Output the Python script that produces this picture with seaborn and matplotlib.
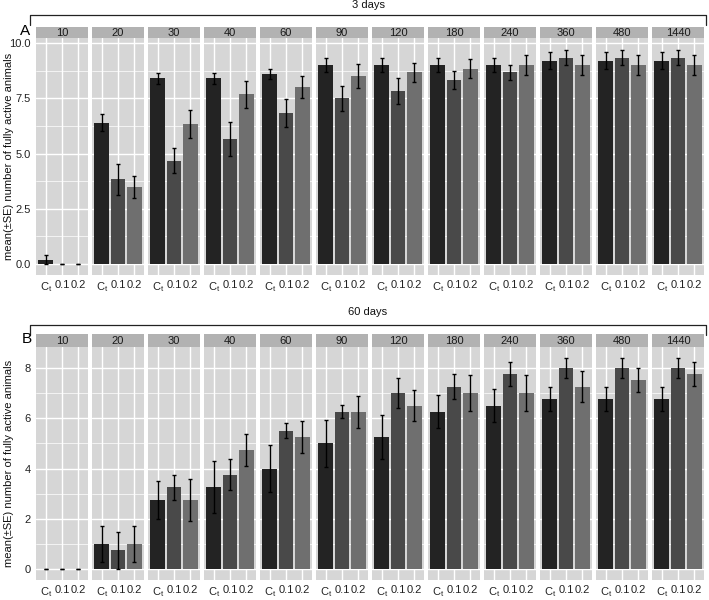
import numpy as np
import pandas as pd
import matplotlib
matplotlib.use('Agg')
import matplotlib.pyplot as plt
from matplotlib.lines import Line2D
from matplotlib import font_manager
import seaborn as sns

# facets (minutes) and treatment groups
times = [10, 20, 30, 40, 60, 90, 120, 180, 240, 360, 480, 1440]
groups = ['Ct', '0.1', '0.2']
group_labels = ['C$_t$', '0.1', '0.2']

# 3 days: mean and SE per group
d3_ct = [0.2, 6.4, 8.4, 8.4, 8.6, 9.0, 9.0, 9.0, 9.0, 9.2, 9.2, 9.2]
d3_ct_se = [0.2, 0.4, 0.24, 0.24, 0.24, 0.32, 0.3, 0.3, 0.3, 0.38, 0.38, 0.38]
d3_01 = [0.0, 3.83, 4.67, 5.67, 6.83, 7.5, 7.83, 8.33, 8.67, 9.33, 9.33, 9.33]
d3_01_se = [0.0, 0.7, 0.57, 0.77, 0.63, 0.56, 0.6, 0.42, 0.33, 0.33, 0.33, 0.33]
d3_02 = [0.0, 3.5, 6.33, 7.67, 8.0, 8.5, 8.67, 8.83, 9.0, 9.0, 9.0, 9.0]
d3_02_se = [0.0, 0.5, 0.62, 0.6, 0.5, 0.56, 0.43, 0.42, 0.45, 0.47, 0.47, 0.47]

# 60 days: mean and SE per group
d60_ct = [0.0, 1.0, 2.75, 3.25, 4.0, 5.0, 5.25, 6.25, 6.5, 6.75, 6.75, 6.75]
d60_ct_se = [0.0, 0.71, 0.75, 1.03, 0.92, 0.92, 0.87, 0.65, 0.65, 0.48, 0.48, 0.48]
d60_01 = [0.0, 0.75, 3.25, 3.75, 5.5, 6.25, 7.0, 7.25, 7.75, 8.0, 8.0, 8.0]
d60_01_se = [0.0, 0.75, 0.48, 0.62, 0.3, 0.26, 0.58, 0.48, 0.48, 0.4, 0.4, 0.4]
d60_02 = [0.0, 1.0, 2.75, 4.75, 5.25, 6.25, 6.5, 7.0, 7.0, 7.25, 7.5, 7.75]
d60_02_se = [0.0, 0.71, 0.85, 0.63, 0.64, 0.64, 0.6, 0.71, 0.71, 0.63, 0.48, 0.48]


def make_df(ct, ct_se, c01, c01_se, c02, c02_se):
    rows = []
    for i, t in enumerate(times):
        for g, m, s in zip(groups, [ct[i], c01[i], c02[i]], [ct_se[i], c01_se[i], c02_se[i]]):
            rows.append({'time': t, 'group': g, 'mean': m, 'se': s})
    return pd.DataFrame(rows)


df3 = make_df(d3_ct, d3_ct_se, d3_01, d3_01_se, d3_02, d3_02_se)
df60 = make_df(d60_ct, d60_ct_se, d60_01, d60_01_se, d60_02, d60_02_se)

# narrow sans if available (reference text is a condensed Helvetica-like face)
installed = {f.name for f in font_manager.fontManager.ttflist}
main_font = 'Liberation Sans Narrow' if 'Liberation Sans Narrow' in installed else 'Liberation Sans'

sns.set_theme(style='white')
plt.rcParams['font.family'] = [main_font, 'DejaVu Sans']
plt.rcParams['mathtext.fontset'] = 'custom'
plt.rcParams['mathtext.rm'] = main_font
plt.rcParams['mathtext.it'] = main_font

palette = {'Ct': '#232323', '0.1': '#494949', '0.2': '#6f6f6f'}
bg = '#d6d6d6'
strip_col = '#b2b2b2'
fs = 8

W, H = 709, 600
fig = plt.figure(figsize=(W / 100, H / 100), dpi=100)


def px_axes(x0, y0, w, h):
    return fig.add_axes([x0 / W, 1 - (y0 + h) / H, w / W, h / H])


def fig_line(xs, ys):
    fig.add_artist(Line2D([x / W for x in xs], [1 - y / H for y in ys],
                          transform=fig.transFigure, color='#222222', lw=0.9))


panels = [
    dict(df=df3, title='3 days', tag='A', strip_top=27, top=38, bottom=275,
         ylim=(-0.49, 10.22), major=[0, 2.5, 5, 7.5, 10],
         minor=[1.25, 3.75, 6.25, 8.75], fmt='{:.1f}',
         br_y=15, title_y=5, tag_xy=(25, 31)),
    dict(df=df60, title='60 days', tag='B', strip_top=334, top=347, bottom=580,
         ylim=(-0.42, 8.82), major=[0, 2, 4, 6, 8],
         minor=[1, 3, 5, 7], fmt='{:.0f}',
         br_y=325, title_y=312, tag_xy=(27, 339)),
]

x_left, pitch, fw = 36, 56, 52

for p in panels:
    for i, t in enumerate(times):
        sub = p['df'][p['df']['time'] == t]
        x0 = x_left + i * pitch
        ax = px_axes(x0, p['top'], fw, p['bottom'] - p['top'])
        ax.set_facecolor(bg)
        ax.set_axisbelow(True)
        sns.barplot(data=sub, x='group', y='mean', hue='group', order=groups,
                    hue_order=groups, palette=palette, legend=False,
                    width=0.9, linewidth=0, errorbar=None, ax=ax)
        ax.errorbar(np.arange(len(groups)), sub['mean'], yerr=sub['se'],
                    fmt='none', ecolor='black', elinewidth=1.0,
                    capsize=1.6, capthick=1.0)
        ax.set_xlim(-0.6, 2.6)
        ax.set_ylim(*p['ylim'])
        ax.set_yticks(p['major'])
        ax.set_yticks(p['minor'], minor=True)
        ax.grid(True, which='major', color='white', lw=1.0)
        ax.grid(True, which='minor', axis='y', color='white', lw=0.5)
        ax.set_xticks(range(len(groups)))
        ax.set_xticklabels(group_labels)
        for s in ax.spines.values():
            s.set_visible(False)
        ax.tick_params(axis='both', which='major', length=2.5, width=0.8,
                       color='#333333', labelsize=fs, labelcolor='#222222',
                       pad=1.2)
        ax.tick_params(axis='y', which='minor', length=0)
        if i == 0:
            ax.set_yticklabels([p['fmt'].format(v) for v in p['major']])
        else:
            ax.tick_params(axis='y', which='major', length=0, labelleft=False)
        ax.set_xlabel('')
        ax.set_ylabel('')

        # facet strip
        sax = px_axes(x0, p['strip_top'], fw, p['top'] - p['strip_top'])
        sax.set_facecolor(strip_col)
        sax.set_xticks([])
        sax.set_yticks([])
        for s in sax.spines.values():
            s.set_visible(False)
        sax.text(0.5, 0.45, str(t), ha='center', va='center', fontsize=fs,
                 color='#1a1a1a', transform=sax.transAxes)

    # bracket and title above each panel
    y = p['br_y']
    fig_line([30, 30, 706, 706], [y + 10, y, y, y + 10])
    fig.text(368 / W, 1 - p['title_y'] / H, p['title'], ha='center',
             va='center', fontsize=fs, color='#111111')
    fig.text(p['tag_xy'][0] / W, 1 - p['tag_xy'][1] / H, p['tag'],
             ha='center', va='center', fontsize=11, color='black')
    fig.text(9 / W, 1 - (p['top'] + p['bottom']) / 2 / H,
             'mean(\u00b1SE) number of fully active animals', rotation=90,
             ha='center', va='center', fontsize=fs, color='#111111')

fig.savefig('out.png', dpi=100)
